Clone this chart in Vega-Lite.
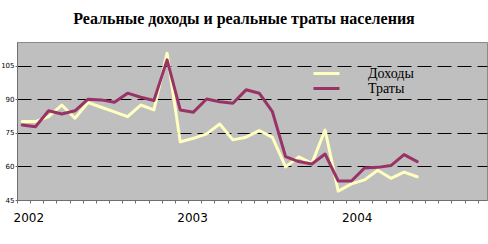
{
  "$schema": "https://vega.github.io/schema/vega-lite/v6.json",
  "width": 470,
  "height": 158,
  "autosize": {"type": "none"},
  "padding": {"left": 17, "top": 42, "right": 1, "bottom": 44},
  "background": "white",
  "title": {
    "text": "Реальные доходы и реальные траты населения",
    "font": "Liberation Serif",
    "fontSize": 16,
    "fontWeight": "bold",
    "color": "#000000",
    "anchor": "middle",
    "dx": -8,
    "offset": 15
  },
  "config": {
    "view": {"stroke": "#8a8a8a", "fill": "#bfbfbf", "strokeWidth": 1}
  },
  "data": {
    "values": [
      {"t": 0, "series": "Доходы", "value": 80.1},
      {"t": 1, "series": "Доходы", "value": 80.1},
      {"t": 2, "series": "Доходы", "value": 82.3},
      {"t": 3, "series": "Доходы", "value": 87.5},
      {"t": 4, "series": "Доходы", "value": 81.6},
      {"t": 5, "series": "Доходы", "value": 88.6},
      {"t": 6, "series": "Доходы", "value": 86.5},
      {"t": 7, "series": "Доходы", "value": 84.4},
      {"t": 8, "series": "Доходы", "value": 82.3},
      {"t": 9, "series": "Доходы", "value": 87.5},
      {"t": 10, "series": "Доходы", "value": 85.3},
      {"t": 11, "series": "Доходы", "value": 110.7},
      {"t": 12, "series": "Доходы", "value": 71.0},
      {"t": 13, "series": "Доходы", "value": 72.6},
      {"t": 14, "series": "Доходы", "value": 74.6},
      {"t": 15, "series": "Доходы", "value": 79.0},
      {"t": 16, "series": "Доходы", "value": 71.9},
      {"t": 17, "series": "Доходы", "value": 73.1},
      {"t": 18, "series": "Доходы", "value": 76.1},
      {"t": 19, "series": "Доходы", "value": 73.0},
      {"t": 20, "series": "Доходы", "value": 59.8},
      {"t": 21, "series": "Доходы", "value": 64.3},
      {"t": 22, "series": "Доходы", "value": 61.4},
      {"t": 23, "series": "Доходы", "value": 76.3},
      {"t": 24, "series": "Доходы", "value": 49.0},
      {"t": 25, "series": "Доходы", "value": 52.2},
      {"t": 26, "series": "Доходы", "value": 54.0},
      {"t": 27, "series": "Доходы", "value": 58.3},
      {"t": 28, "series": "Доходы", "value": 54.7},
      {"t": 29, "series": "Доходы", "value": 57.5},
      {"t": 30, "series": "Доходы", "value": 55.4},
      {"t": 0, "series": "Траты", "value": 78.6},
      {"t": 1, "series": "Траты", "value": 77.8},
      {"t": 2, "series": "Траты", "value": 84.9},
      {"t": 3, "series": "Траты", "value": 83.5},
      {"t": 4, "series": "Траты", "value": 84.9},
      {"t": 5, "series": "Траты", "value": 90.1},
      {"t": 6, "series": "Траты", "value": 89.8},
      {"t": 7, "series": "Траты", "value": 88.7},
      {"t": 8, "series": "Траты", "value": 92.8},
      {"t": 9, "series": "Траты", "value": 91.0},
      {"t": 10, "series": "Траты", "value": 89.5},
      {"t": 11, "series": "Траты", "value": 107.7},
      {"t": 12, "series": "Траты", "value": 85.3},
      {"t": 13, "series": "Траты", "value": 84.3},
      {"t": 14, "series": "Траты", "value": 90.2},
      {"t": 15, "series": "Траты", "value": 89.0},
      {"t": 16, "series": "Траты", "value": 88.3},
      {"t": 17, "series": "Траты", "value": 94.3},
      {"t": 18, "series": "Траты", "value": 92.8},
      {"t": 19, "series": "Траты", "value": 84.5},
      {"t": 20, "series": "Траты", "value": 64.4},
      {"t": 21, "series": "Траты", "value": 62.2},
      {"t": 22, "series": "Траты", "value": 61.1},
      {"t": 23, "series": "Траты", "value": 65.6},
      {"t": 24, "series": "Траты", "value": 53.5},
      {"t": 25, "series": "Траты", "value": 53.5},
      {"t": 26, "series": "Траты", "value": 59.3},
      {"t": 27, "series": "Траты", "value": 59.6},
      {"t": 28, "series": "Траты", "value": 60.4},
      {"t": 29, "series": "Траты", "value": 65.3},
      {"t": 30, "series": "Траты", "value": 62.2}
    ]
  },
  "mark": {"type": "line", "strokeWidth": 3, "strokeJoin": "round", "strokeCap": "round"},
  "encoding": {
    "x": {
      "field": "t",
      "type": "quantitative",
      "scale": {"domain": [-0.4, 35.3], "nice": false, "zero": false},
      "axis": {
        "title": null,
        "grid": false,
        "domainColor": "#6e6e6e",
        "tickColor": "#6e6e6e",
        "tickSize": 3,
        "values": [-0.4, 0.6, 1.6, 2.6, 3.6, 4.6, 5.6, 6.6, 7.6, 8.6, 9.6, 10.6, 11.6, 12.6, 13.6, 14.6, 15.6, 16.6, 17.6, 18.6, 19.6, 20.6, 21.6, 22.6, 23.6, 24.6, 25.6, 26.6, 27.6, 28.6, 29.6, 30.6, 31.6, 32.6, 33.6, 34.6, 0.46, 12.9, 25.4],
        "tickOpacity": {"condition": {"test": "datum.value == 0.46 || datum.value == 12.9 || datum.value == 25.4", "value": 0}, "value": 1},
        "labelExpr": "datum.value == 0.46 ? '2002' : datum.value == 12.9 ? '2003' : datum.value == 25.4 ? '2004' : ''",
        "labelFont": "DejaVu Sans",
        "labelFontSize": 12,
        "labelColor": "#000000",
        "labelPadding": 9,
        "labelOverlap": false,
        "labelFlush": false
      }
    },
    "y": {
      "field": "value",
      "type": "quantitative",
      "scale": {"domain": [45, 115.7], "nice": false, "zero": false},
      "axis": {
        "title": null,
        "values": [45, 60, 75, 90, 105],
        "grid": true,
        "gridColor": "#000000",
        "gridDash": [14, 6],
        "gridWidth": 1,
        "gridOpacity": {"condition": {"test": "datum.value == 45", "value": 0}, "value": 1},
        "domainColor": "#6e6e6e",
        "tickColor": "#6e6e6e",
        "tickSize": 2,
        "labelFont": "DejaVu Sans",
        "labelFontSize": 7,
        "labelColor": "#000000",
        "labelPadding": 1
      }
    },
    "color": {
      "field": "series",
      "type": "nominal",
      "scale": {"domain": ["Доходы", "Траты"], "range": ["#ffffc0", "#993366"]},
      "legend": {
        "title": null,
        "orient": "none",
        "legendX": 295,
        "legendY": 24,
        "symbolType": "stroke",
        "symbolSize": 676,
        "symbolStrokeWidth": 3,
        "clipHeight": 15,
        "labelFont": "Liberation Serif",
        "labelFontSize": 14,
        "labelColor": "#000000",
        "labelOffset": 27,
        "rowPadding": 0
      }
    }
  }
}
